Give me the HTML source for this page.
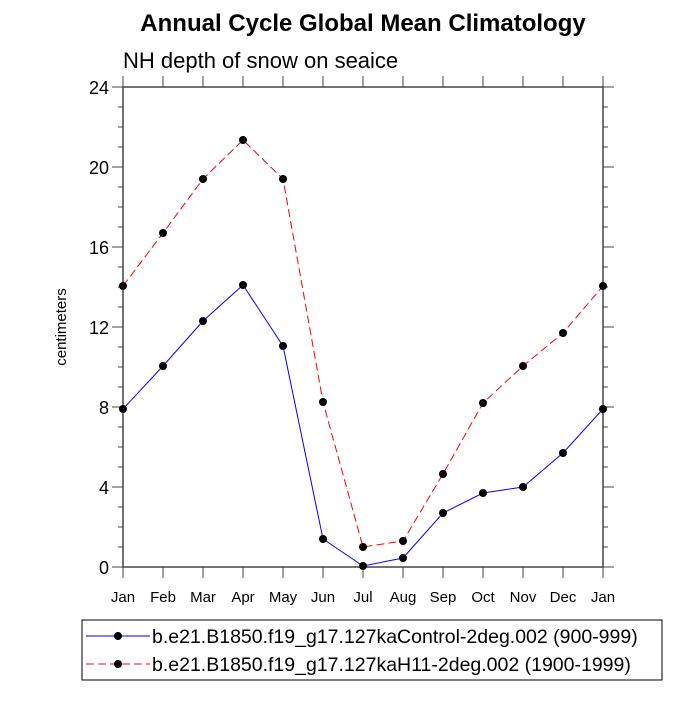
<!DOCTYPE html>
<html><head><meta charset="utf-8"><style>
body{margin:0;background:#fff;}
svg text{font-family:"Liberation Sans",sans-serif;}
</style></head><body>
<svg id="c" width="700" height="700" xmlns="http://www.w3.org/2000/svg">
<text x="363" y="31" text-anchor="middle" font-size="24" font-weight="bold">Annual Cycle Global Mean Climatology</text>
<text x="123" y="68" font-size="22">NH depth of snow on seaice</text>
<text transform="translate(66,327) rotate(-90)" text-anchor="middle" font-size="15">centimeters</text>
<g id="ax"></g><g id="marks"></g>
<rect x="82" y="620" width="580" height="60" fill="none" stroke="#000" stroke-width="1"/>
<g>
<line x1="86" y1="636" x2="150" y2="636" stroke="#0000ff" stroke-width="1"/>
<circle cx="118" cy="636" r="4" fill="#000"/>
<text x="152" y="643" font-size="19.5">b.e21.B1850.f19_g17.127kaControl-2deg.002 (900-999)</text>
</g>
<g>
<line x1="86" y1="664" x2="150" y2="664" stroke="#ff0000" stroke-width="1" stroke-dasharray="8,4"/>
<circle cx="118" cy="664" r="4" fill="#000"/>
<text x="152" y="671" font-size="19.5">b.e21.B1850.f19_g17.127kaH11-2deg.002 (1900-1999)</text>
</g>
</svg>
<script>
const months=["Jan","Feb","Mar","Apr","May","Jun","Jul","Aug","Sep","Oct","Nov","Dec","Jan"];
const controlValues=[7.9,10.05,12.3,14.1,11.05,1.4,0.05,0.45,2.7,3.7,4.0,5.7,7.9];
const h11Values=[14.05,16.7,19.4,21.35,19.4,8.25,1.0,1.3,4.65,8.2,10.05,11.7,14.05];
const yTicks=[0,4,8,12,16,20,24];
const X0=123,X1=603,Y0=567,Y1=87,YMAX=24;
const xs=i=>X0+(X1-X0)*i/(months.length-1);
const ys=v=>Y0-(Y0-Y1)*v/YMAX;
const NS="http://www.w3.org/2000/svg";
function mk(t,a,p){const e=document.createElementNS(NS,t);for(const k in a)e.setAttribute(k,a[k]);p.appendChild(e);return e;}
const ax=document.getElementById('ax'),mg=document.getElementById('marks');
for(let v=0;v<=YMAX;v++){const y=ys(v),L=v%4==0?11:5;
mk('line',{x1:X0,y1:y,x2:X0-L,y2:y,stroke:'#444'},ax);mk('line',{x1:X1,y1:y,x2:X1+L,y2:y,stroke:'#444'},ax);}
yTicks.forEach(v=>{const t=mk('text',{x:X0-14,y:ys(v)+7,'text-anchor':'end','font-size':18},ax);t.textContent=v;

});
months.forEach((m,i)=>{const x=xs(i);
mk('line',{x1:x,y1:Y0,x2:x,y2:Y0+11,stroke:'#444'},ax);mk('line',{x1:x,y1:Y1,x2:x,y2:Y1-11,stroke:'#444'},ax);
const t=mk('text',{x:x,y:Y0+35,'text-anchor':'middle','font-size':15},ax);t.textContent=m;

});
const fr=mk('rect',{x:X0,y:Y1,width:X1-X0,height:Y0-Y1,fill:'none',stroke:'#444','stroke-width':1.5},ax);


function series(vals,color,dash,name){
const p=mk('polyline',{points:vals.map((v,i)=>xs(i)+','+ys(v)).join(' '),fill:'none',stroke:color,'stroke-width':1,'stroke-dasharray':dash},mg);


vals.forEach((v,i)=>{const c=mk('circle',{cx:xs(i),cy:ys(v),r:4,fill:'#000'},mg);

});}
series(controlValues,'#0000ff','none','control');
series(h11Values,'#ff0000','8,4','h11');
</script>
</body></html>
